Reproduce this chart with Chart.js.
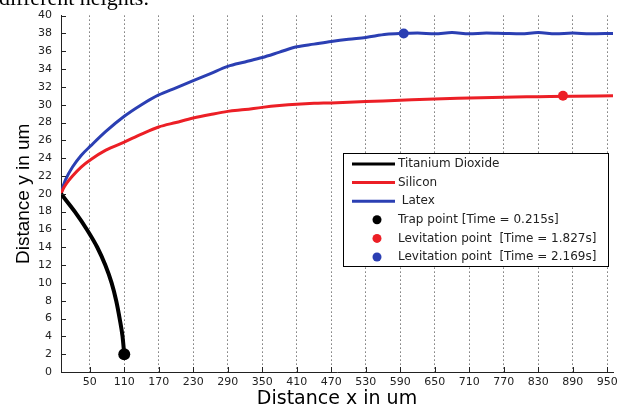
<!DOCTYPE html>
<html>
<head>
<meta charset="utf-8">
<script src="https://cdn.jsdelivr.net/npm/chart.js@4"></script>
<style>
  body { margin: 0; background: #fff; }
  #wrap { position: relative; width: 624px; height: 410px; overflow: hidden; background: #fff; }
  #caption { position: absolute; left: -1px; top: -13px; font: 22px/1 "Liberation Serif", serif; color: #000; white-space: nowrap; }
  canvas { position: absolute; left: 0; top: 0; }
</style>
</head>
<body>
<div id="wrap">
  <canvas id="chart" width="624" height="410"></canvas>
  <div id="caption">different heights.</div>
</div>
<script>
// tick labels
const xTicks = [50, 110, 170, 230, 290, 350, 410, 470, 530, 590, 650, 710, 770, 830, 890, 950];

// Titanium Dioxide trajectory
const tioX = [0, 24, 45, 63, 77, 88, 96, 102, 107, 110];
const tioY = [20, 18, 16, 14, 12, 10, 8, 6, 4, 2];

// Silicon trajectory
const siX = [0, 5, 10, 20, 35, 52, 78, 110, 140, 170, 200, 230, 260, 290, 320, 350, 380, 410, 440, 470, 530, 590, 650, 710, 770, 830, 890, 960];
const siY = [20, 20.7, 21.2, 22.0, 23.0, 23.85, 24.9, 25.8, 26.7, 27.5, 28.0, 28.5, 28.9, 29.25, 29.45, 29.7, 29.9, 30.05, 30.15, 30.2, 30.35, 30.5, 30.65, 30.75, 30.85, 30.9, 30.95, 31.0];

// Latex trajectory
const latX = [0, 4, 8, 20, 35, 52, 78, 110, 140, 170, 200, 230, 260, 290, 320, 350, 380, 410, 440, 470, 500, 530, 566, 596, 620, 650, 680, 710, 740, 770, 800, 830, 860, 890, 920, 960];
const latY = [20, 20.9, 21.6, 23.0, 24.3, 25.4, 27.0, 28.7, 30.0, 31.1, 31.9, 32.7, 33.5, 34.3, 34.8, 35.3, 35.9, 36.5, 36.8, 37.1, 37.35, 37.55, 37.9, 38.0, 38.05, 37.95, 38.1, 37.95, 38.05, 38.0, 37.95, 38.1, 37.95, 38.05, 37.95, 38.0];

// marked points [x, y]
const trapPoint = [110, 2];
const siLevPoint = [873, 31];
const latLevPoint = [596, 38];

const BLUE = '#2b3fb3';
const RED = '#ec1f26';
const BLACK = '#000';

const pts = (xs, ys) => xs.map((x, i) => ({ x: x, y: ys[i] }));

const innerTicks = {
  id: 'innerTicks',
  afterDatasetsDraw(chart) {
    const { ctx, scales: { x, y }, chartArea } = chart;
    ctx.save();
    ctx.strokeStyle = '#222';
    ctx.lineWidth = 1;
    ctx.beginPath();
    y.ticks.forEach(t => {
      const py = Math.round(y.getPixelForValue(t.value)) + 0.5;
      ctx.moveTo(chartArea.left, py);
      ctx.lineTo(chartArea.left + 5, py);
    });
    x.ticks.forEach(t => {
      const px = Math.round(x.getPixelForValue(t.value)) + 0.5;
      ctx.moveTo(px, chartArea.bottom);
      ctx.lineTo(px, chartArea.bottom - 5);
    });
    ctx.stroke();
    ctx.restore();
  }
};

const boxLegend = {
  id: 'boxLegend',
  afterDraw(chart) {
    const { ctx } = chart;
    const bx = 343.5, by = 153.5, bw = 265, bh = 113;
    ctx.save();
    ctx.fillStyle = '#fff';
    ctx.fillRect(bx, by, bw, bh);
    ctx.strokeStyle = '#000';
    ctx.lineWidth = 1;
    ctx.strokeRect(bx, by, bw, bh);
    ctx.font = '12px "DejaVu Sans"';
    ctx.textBaseline = 'middle';
    chart.data.datasets.forEach((ds, i) => {
      const ry = 164 + i * 18.6;
      if (ds.showLine === false) {
        ctx.fillStyle = ds.backgroundColor;
        ctx.beginPath();
        ctx.arc(377, ry, 4.5, 0, Math.PI * 2);
        ctx.fill();
      } else {
        ctx.strokeStyle = ds.borderColor;
        ctx.lineWidth = 3;
        ctx.beginPath();
        ctx.moveTo(352, ry);
        ctx.lineTo(395, ry);
        ctx.stroke();
      }
      ctx.fillStyle = '#222';
      ctx.fillText(ds.label, 398, ry);
    });
    ctx.restore();
  }
};

new Chart(document.getElementById('chart'), {
  type: 'line',
  data: {
    datasets: [
      { label: 'Titanium Dioxide', data: pts(tioX, tioY), borderColor: BLACK, backgroundColor: BLACK, borderWidth: 4, pointRadius: 0, cubicInterpolationMode: 'monotone' },
      { label: 'Silicon', data: pts(siX, siY), borderColor: RED, backgroundColor: RED, borderWidth: 3, pointRadius: 0, cubicInterpolationMode: 'monotone' },
      { label: ' Latex', data: pts(latX, latY), borderColor: BLUE, backgroundColor: BLUE, borderWidth: 3, pointRadius: 0, cubicInterpolationMode: 'monotone' },
      { label: 'Trap point [Time = 0.215s]', data: [{ x: trapPoint[0], y: trapPoint[1] }], showLine: false, backgroundColor: BLACK, borderColor: BLACK, pointRadius: 6, pointBorderWidth: 0 },
      { label: 'Levitation point  [Time = 1.827s]', data: [{ x: siLevPoint[0], y: siLevPoint[1] }], showLine: false, backgroundColor: RED, borderColor: RED, pointRadius: 5, pointBorderWidth: 0 },
      { label: 'Levitation point  [Time = 2.169s]', data: [{ x: latLevPoint[0], y: latLevPoint[1] }], showLine: false, backgroundColor: BLUE, borderColor: BLUE, pointRadius: 5, pointBorderWidth: 0 }
    ]
  },
  options: {
    responsive: false,
    animation: false,
    layout: { padding: { top: 15, right: 11, left: 0, bottom: 0 } },
    plugins: {
      legend: { display: false },
      tooltip: { enabled: false }
    },
    scales: {
      x: {
        type: 'linear',
        min: 0,
        max: 960,
        afterBuildTicks: (scale) => { scale.ticks = xTicks.map(v => ({ value: v })); },
        afterFit: (scale) => { scale.height = 38; },
        grid: { color: '#333', lineWidth: 1, drawTicks: false },
        border: { display: true, color: '#222', width: 1, dash: [1, 3] },
        ticks: { color: '#222', padding: 4, font: { family: 'DejaVu Sans', size: 11 }, maxRotation: 0, autoSkip: false },
        title: { display: true, text: 'Distance x in um', color: '#000', font: { family: 'DejaVu Sans', size: 19 }, padding: { top: 0, bottom: 0 } }
      },
      y: {
        min: 0,
        max: 40,
        afterFit: (scale) => { scale.width = 61; },
        grid: { drawOnChartArea: false, drawTicks: false },
        border: { display: true, color: '#222', width: 1 },
        ticks: { stepSize: 2, color: '#222', padding: 9, font: { family: 'DejaVu Sans', size: 11 }, autoSkip: false },
        title: { display: true, text: 'Distance y in um', color: '#000', font: { family: 'Liberation Sans', size: 19 }, padding: { top: 12, bottom: 0 } }
      }
    }
  },
  plugins: [innerTicks, boxLegend]
});
</script>
</body>
</html>
